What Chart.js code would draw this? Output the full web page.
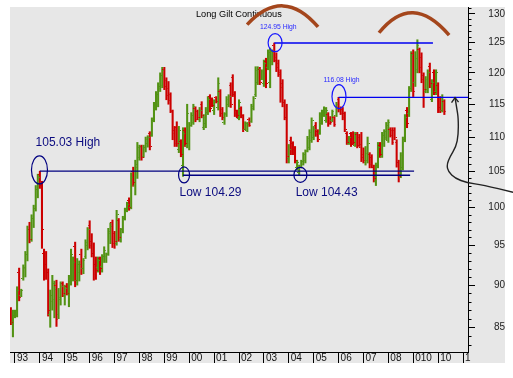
<!DOCTYPE html>
<html><head><meta charset="utf-8">
<script src="https://cdn.jsdelivr.net/npm/chart.js@4.4.1/dist/chart.umd.min.js"></script>
<style>html,body{margin:0;padding:0;background:#fff;}canvas{display:block;}</style>
</head><body>
<canvas id="c" width="513" height="378"></canvas>
<script>
// ---- data (monthly bars, index 0 = Nov 1992) ----
const chartTitle = 'Long Gilt Continuous';
const yearLabels = ['93','94','95','96','97','98','99','00','01','02','03','04','05','06','07','08','010','10','1'];
const yearTickMonth = [2,14,26,38,50,62,74,86,98,110,122,134,146,158,170,182,194,206,218];
const yAxisTicks = [85,90,95,100,105,110,115,120,125,130];

const opens = [86.8,85.6,86.4,86.9,91.5,88.8,90.8,92.0,93.8,97.0,95.8,98.5,99.8,102.5,
104.5,103.0,94.0,92.5,91.5,86.5,88.0,88.3,90.0,86.5,88.3,90.2,
88.8,89.8,89.0,90.5,92.5,94.8,90.6,91.5,93.8,92.0,93.5,95.0,
97.6,95.5,94.0,92.5,92.2,93.3,92.3,93.5,93.5,94.0,96.5,98.0,
96.5,95.2,98.3,95.8,97.0,98.5,99.6,101.0,100.0,105.0,103.0,105.5,
107.0,108.6,107.2,108.5,109.0,110.6,110.3,112.5,114.5,115.0,117.5,118.0,
120.5,118.8,117.5,116.5,113.8,111.0,111.5,108.2,109.3,105.8,111.0,108.8,
109.0,111.8,112.2,114.3,113.8,112.6,115.0,111.5,112.0,113.7,116.2,115.6,
114.0,116.0,114.5,117.0,114.2,112.2,113.5,115.0,118.0,119.2,116.6,114.0,
112.8,114.4,113.0,111.2,111.0,112.7,112.4,114.4,116.5,118.5,120.5,119.0,
118.3,121.9,120.8,118.5,121.8,124.6,122.5,121.5,120.0,118.2,115.3,113.0,
106.8,109.5,109.0,108.2,105.5,104.8,105.6,106.0,106.5,108.0,108.5,109.5,
110.0,111.8,110.9,110.5,112.0,113.3,112.5,113.4,112.8,112.5,112.9,113.3,
115.7,114.4,114.2,113.5,110.6,109.0,110.5,110.6,108.8,110.4,110.0,108.5,
107.5,106.2,106.5,107.5,107.0,105.5,103.5,105.8,108.8,107.2,109.0,110.0,
109.5,111.2,111.0,111.0,109.2,106.2,104.3,105.5,109.6,114.0,113.5,117.5,
123.2,118.5,120.5,123.8,122.5,119.5,117.0,117.3,121.0,115.8,120.0,117.0,
118.0,116.0,114.0,115.4];
const highs = [87.3,87.0,87.0,89.8,92.1,89.5,92.5,94.2,97.5,98.0,99.0,100.3,103.0,104.6,
105.03,103.6,94.5,94.2,92.0,89.4,91.2,90.5,90.6,89.6,90.4,90.4,
90.0,90.2,91.2,94.5,93.5,95.4,93.3,93.0,94.5,93.3,95.7,97.3,
98.2,96.5,95.3,93.5,93.5,93.5,93.8,94.8,94.0,97.2,97.9,98.3,
96.8,99.6,98.5,97.2,98.8,99.9,100.7,101.3,104.8,105.6,106.6,109.2,
108.8,108.8,108.8,110.0,110.2,110.8,112.9,115.3,117.0,118.4,120.0,120.9,
120.9,119.2,118.6,116.8,114.1,111.6,112.3,111.6,109.6,111.4,111.4,115.0,
112.2,113.7,115.0,114.6,114.1,114.5,115.4,113.4,114.5,116.2,116.5,116.0,
115.7,116.2,119.2,117.3,114.5,113.7,116.2,116.5,118.4,119.7,117.0,114.1,
115.7,114.6,113.4,112.3,112.2,112.9,115.0,116.2,121.0,121.0,120.9,120.5,
122.1,122.4,123.8,124.1,123.8,124.95,123.3,122.1,120.5,118.9,115.7,115.0,
108.9,110.0,109.3,108.6,106.6,105.9,106.6,107.7,108.1,110.1,111.1,112.9,
111.6,112.2,111.1,113.7,114.1,114.6,114.5,113.7,113.1,114.1,113.1,115.3,
116.08,114.6,114.5,113.8,110.8,110.1,110.7,110.8,110.7,110.7,110.4,110.7,
108.4,108.6,110.0,107.7,107.4,105.9,106.2,109.2,109.2,110.7,111.1,112.2,
112.6,111.4,111.4,111.4,109.6,106.6,107.7,110.0,113.4,114.5,117.8,123.5,
123.8,123.5,125.5,124.1,123.3,120.0,119.4,120.5,121.6,118.9,120.5,120.5,
118.4,116.2,116.5,115.7];
const lows = [85.3,83.9,86.1,86.2,88.1,88.6,90.6,91.0,93.0,95.3,95.5,97.3,99.5,101.3,
102.6,94.6,90.6,90.7,86.3,85.0,87.0,86.1,85.1,86.0,87.6,88.6,
87.6,88.8,87.4,90.0,90.5,89.8,90.0,90.5,91.3,91.4,93.3,94.4,
94.6,93.5,90.6,90.7,91.6,91.3,91.6,92.8,92.8,93.7,95.2,94.7,
94.6,95.0,95.5,95.4,96.6,98.3,99.4,99.6,99.8,102.9,101.7,104.0,
106.6,106.6,107.0,107.8,108.5,108.1,110.1,112.3,114.1,114.6,117.0,117.6,
117.3,115.7,115.0,113.7,109.6,108.6,108.6,107.7,107.1,104.29,108.6,108.4,
108.1,111.6,111.9,112.3,112.6,112.3,112.9,111.1,111.4,113.4,113.8,114.6,
113.4,115.2,114.1,113.1,112.6,111.9,113.1,114.6,114.5,116.2,113.1,112.9,
112.6,112.9,110.8,111.1,110.8,111.6,112.2,114.1,116.2,118.1,118.1,118.9,
117.8,117.6,120.5,117.6,121.3,121.8,120.2,119.4,115.3,114.6,112.6,106.2,
106.2,107.4,107.4,106.2,105.2,104.43,105.5,105.9,106.2,107.8,108.1,109.2,
109.6,110.1,109.3,110.4,111.9,113.1,112.2,111.6,111.9,112.3,111.6,113.1,
113.8,113.4,112.6,110.8,108.9,108.9,108.6,108.9,108.6,108.4,108.6,106.4,
106.2,105.9,106.2,105.5,105.5,103.5,103.0,105.5,107.0,107.0,108.6,109.6,
109.2,110.0,108.9,109.6,105.6,103.5,104.1,105.2,109.3,111.4,113.1,117.0,
116.2,117.8,120.0,120.0,118.4,114.5,116.8,116.8,117.6,115.4,116.5,116.5,
113.7,113.7,113.8,113.4];
const closes = [85.6,86.7,86.9,89.4,88.5,89.3,92.2,93.8,97.0,95.8,98.5,99.8,102.5,104.2,
103.0,97.0,92.5,91.5,87.0,88.8,90.2,89.5,85.9,88.5,89.8,89.0,
89.6,89.0,90.8,93.8,92.8,90.6,92.6,92.5,92.0,93.0,95.3,97.0,
95.0,94.0,91.3,91.8,93.0,92.0,93.5,94.3,93.8,96.8,97.5,95.2,
95.5,99.0,96.0,97.0,98.4,99.7,100.4,100.0,104.2,103.4,106.0,108.5,
108.4,107.0,108.5,109.6,110.0,108.6,112.5,115.0,116.5,117.8,119.6,120.3,
117.8,116.3,115.6,114.0,110.5,109.0,109.0,111.0,107.4,110.5,109.0,113.5,
111.8,113.3,114.6,112.6,112.9,114.0,113.3,113.0,114.2,115.8,114.3,114.8,
115.4,115.5,118.3,113.5,113.0,113.4,115.8,116.2,115.0,116.8,113.6,113.2,
115.3,113.2,111.2,112.0,111.9,111.8,114.6,115.9,120.4,120.6,118.5,120.2,
121.6,118.2,123.3,123.5,123.6,122.0,120.8,119.8,117.6,115.2,113.0,107.2,
108.2,107.8,107.6,106.5,106.3,105.5,106.4,107.4,107.8,109.8,110.7,112.5,
111.2,110.4,109.7,113.3,113.7,114.4,114.1,112.0,112.2,113.9,111.9,115.0,
114.2,113.6,113.0,111.2,109.2,109.9,108.9,109.2,110.5,108.7,108.9,107.0,
106.5,107.6,109.0,106.0,105.9,104.0,105.8,108.5,107.4,110.2,110.8,111.8,
112.2,110.2,109.2,110.0,106.2,104.3,107.3,109.6,113.0,112.0,117.5,123.0,
117.0,122.3,124.6,120.8,119.0,117.3,119.0,120.0,118.2,118.4,116.9,120.1,
114.5,114.0,115.6,113.8];

// ---- annotations (in data units: month index / price) ----
const levelFrom  = [14, 83, 127, 158];
const levelTo    = [194.4, 192.5, 203.5, 220.4];
const levelValue = [105.03, 104.45, 124.95, 116.08];
const levelColor = ['#000080', '#000080', '#0000f0', '#0000f0'];

const ringMonth = [13.8, 83.5, 139.6, 127.4, 158.2];
const ringValue = [105.2, 104.5, 104.5, 125.0, 116.2];
const ringRx = [8, 5.5, 6.5, 7, 7];
const ringRy = [14, 8, 7.5, 9, 12];
const ringColor = ['#000080', '#000080', '#000080', '#1515ff', '#1515ff'];

const noteText  = ['105.03 High', 'Low 104.29', 'Low 104.43', '124.95 High', '116.08 High'];
const noteMonth = [11.9, 81.3, 137.3, 120.1, 150.7];
const noteValue = [109.1, 102.0, 102.0, 127.7, 118.9];
const noteFont  = ['12px', '12px', '12px', '6.8px', '6.8px'];
const noteColor = ['#0c0c80', '#0c0c80', '#0c0c80', '#2a2aff', '#2a2aff'];

const arc1Month = [113.9, 131.2, 148.1], arc1Value = [128.1, 131.4, 127.7];
const arc2Month = [177.5, 193.9, 211.3], arc2Value = [126.7, 130.2, 126.3];

const arrowMonth = [214.15, 214.97, 215.74, 215.74, 214.63, 211.74, 210.15, 210.92, 214.15, 219.79, 227.79, 242.12];
const arrowValue = [116.04, 114.38, 112.84, 110.31, 108.57, 107.11, 105.92, 104.95, 104.02, 103.40, 103.08, 102.06];

// ---- styles ----
const UP = '#529213', DOWN = '#cc0000';
const isUp = i => closes[i] >= opens[i];
function tickImg(color, side) {
  const c = document.createElement('canvas'); c.width = 4; c.height = 1;
  const g = c.getContext('2d'); g.fillStyle = color;
  g.fillRect(side === 'open' ? 0 : 3, 0, 1, 1);
  return c;
}
const openUp = tickImg(UP, 'open'), openDn = tickImg(DOWN, 'open');
const closeUp = tickImg(UP, 'close'), closeDn = tickImg(DOWN, 'close');

Chart.defaults.font.family = "'Liberation Sans', Arial, sans-serif";
Chart.defaults.font.size = 10;

const deco = {
  id: 'deco',
  beforeDraw(chart) {
    const {ctx, chartArea: a} = chart;
    ctx.save();
    ctx.fillStyle = '#e7e7e7';
    ctx.fillRect(a.left, a.top, a.right - a.left + 37, a.bottom - a.top + 11);
    ctx.restore();
  },
  afterDraw(chart) {
    const {ctx, chartArea: a} = chart;
    const xs = chart.scales.x, ys = chart.scales.y;
    const px = m => xs.getPixelForValue(m), py = v => ys.getPixelForValue(v);
    ctx.save();
    // minor y ticks
    ctx.strokeStyle = '#000'; ctx.lineWidth = 1; ctx.beginPath();
    for (let v = 83; v <= 131; v++) {
      if (v % 5 === 0) continue;
      const yy = Math.round(py(v)) + 0.5;
      ctx.moveTo(a.right, yy); ctx.lineTo(a.right + 3.5, yy);
    }
    ctx.stroke();
    // rings
    ctx.lineWidth = 1.2;
    ringMonth.forEach((m, i) => {
      ctx.strokeStyle = ringColor[i];
      ctx.beginPath();
      ctx.ellipse(px(m), py(ringValue[i]), ringRx[i], ringRy[i], 0, 0, Math.PI * 2);
      ctx.stroke();
    });
    // notes
    ctx.textBaseline = 'middle'; ctx.textAlign = 'left';
    noteText.forEach((t, i) => {
      ctx.font = noteFont[i] + " 'Liberation Sans', Arial, sans-serif";
      ctx.fillStyle = noteColor[i];
      ctx.fillText(t, px(noteMonth[i]), py(noteValue[i]));
    });
    // title
    ctx.font = "9.2px 'Liberation Sans', Arial, sans-serif";
    ctx.fillStyle = '#000';
    ctx.fillText(chartTitle, a.left + 186, a.top + 7);
    // brown arcs
    ctx.strokeStyle = '#a4461c'; ctx.lineWidth = 3.5; ctx.lineCap = 'butt';
    [[arc1Month, arc1Value], [arc2Month, arc2Value]].forEach(([ms, vs]) => {
      const p = ms.map((m, i) => [px(m), py(vs[i])]);
      const cx = 2 * p[1][0] - (p[0][0] + p[2][0]) / 2;
      const cy = 2 * p[1][1] - (p[0][1] + p[2][1]) / 2;
      ctx.beginPath(); ctx.moveTo(p[0][0], p[0][1]);
      ctx.quadraticCurveTo(cx, cy, p[2][0], p[2][1]);
      ctx.stroke();
    });
    // black arrow
    const pts = arrowMonth.map((m, i) => [px(m), py(arrowValue[i])]);
    ctx.strokeStyle = '#222'; ctx.lineWidth = 1.4;
    ctx.beginPath(); ctx.moveTo(pts[0][0], pts[0][1]);
    for (let i = 1; i < pts.length - 1; i++) {
      const mx = (pts[i][0] + pts[i + 1][0]) / 2, my = (pts[i][1] + pts[i + 1][1]) / 2;
      ctx.quadraticCurveTo(pts[i][0], pts[i][1], mx, my);
    }
    ctx.lineTo(pts[pts.length - 1][0], pts[pts.length - 1][1]);
    ctx.stroke();
    const tip = pts[0];
    ctx.beginPath();
    ctx.moveTo(tip[0] - 3.5, tip[1] + 5); ctx.lineTo(tip[0], tip[1]); ctx.lineTo(tip[0] + 3.5, tip[1] + 4.5);
    ctx.stroke();
    ctx.restore();
  }
};

const datasets = [];
levelValue.forEach((v, k) => {
  datasets.push({
    type: 'line', data: [{x: levelFrom[k], y: v}, {x: levelTo[k], y: v}],
    borderColor: levelColor[k], borderWidth: 1.3, pointRadius: 0, order: 0, clip: false
  });
});
datasets.push({
  type: 'scatter', data: opens.map((o, i) => ({x: i, y: o})), order: 1,
  pointStyle: c => (c.dataIndex === undefined || isUp(c.dataIndex)) ? openUp : openDn, pointRadius: 1
});
datasets.push({
  type: 'scatter', data: closes.map((o, i) => ({x: i, y: o})), order: 1,
  pointStyle: c => (c.dataIndex === undefined || isUp(c.dataIndex)) ? closeUp : closeDn, pointRadius: 1
});
datasets.push({
  type: 'bar', data: lows.map((l, i) => ({x: i, y: [l, highs[i]]})), order: 2,
  backgroundColor: c => (c.dataIndex === undefined || isUp(c.dataIndex)) ? UP : DOWN,
  barThickness: 1.4, borderWidth: 0
});

new Chart(document.getElementById('c'), {
  type: 'bar',
  data: { datasets },
  options: {
    responsive: false, animation: false, devicePixelRatio: 1, events: [],
    layout: { padding: { left: 10, top: 7, right: 8, bottom: 15 } },
    plugins: { legend: { display: false }, tooltip: { enabled: false }, title: { display: false } },
    scales: {
      x: {
        type: 'linear', min: -0.41, max: 220.4, offset: false,
        afterBuildTicks: s => { s.ticks = yearTickMonth.map(v => ({ value: v })); },
        afterFit: s => { s.height = 11; s.paddingLeft = 0; s.paddingRight = 0; },
        grid: { drawOnChartArea: false, drawTicks: true, tickLength: 11, color: '#000', tickColor: '#000', offset: false },
        border: { display: true, color: '#000', width: 1 },
        ticks: {
          autoSkip: false, maxRotation: 0, align: 'start', labelOffset: 2, padding: -11, color: '#111',
          callback: v => yearLabels[yearTickMonth.indexOf(v)]
        }
      },
      y: {
        type: 'logarithmic', position: 'right', min: 82.2, max: 131.2,
        afterBuildTicks: s => { s.ticks = yAxisTicks.map(v => ({ value: v })); },
        afterFit: s => { s.width = 37; s.paddingTop = 0; s.paddingBottom = 0; },
        grid: { drawOnChartArea: false, drawTicks: true, tickLength: 7, color: '#000', tickColor: '#000' },
        border: { display: true, color: '#000', width: 1 },
        ticks: { autoSkip: false, crossAlign: 'far', padding: 10, color: '#222', callback: v => String(v) }
      }
    }
  },
  plugins: [deco]
});
</script>
</body></html>
